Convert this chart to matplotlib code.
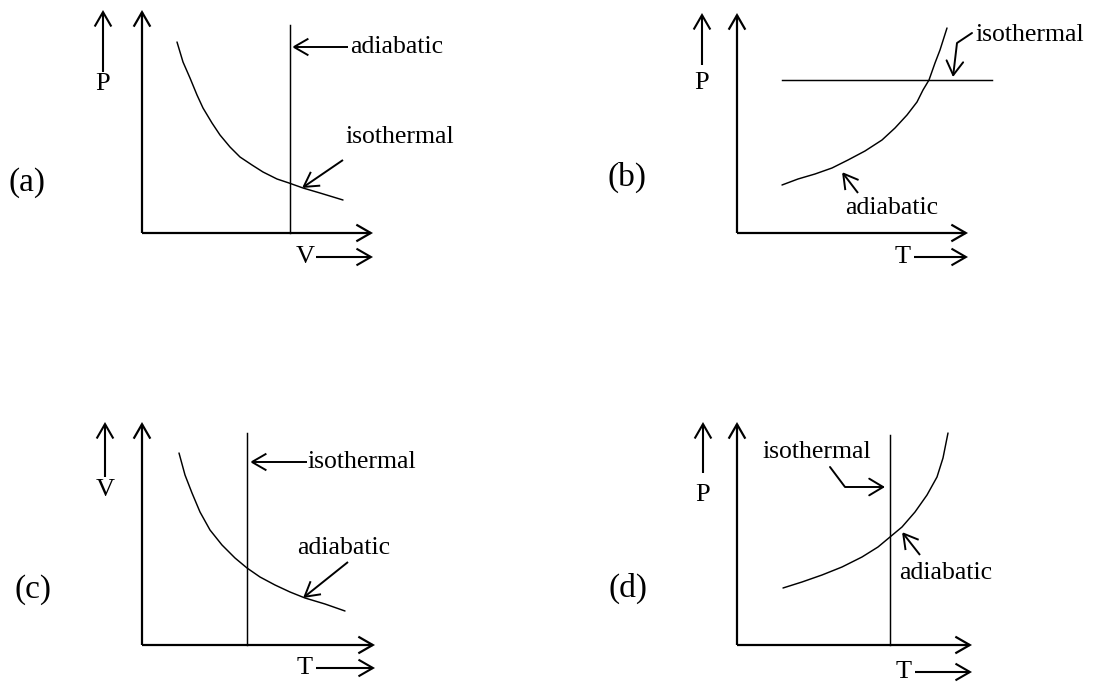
#!/usr/bin/env python3
"""Four P-V-T sketches (a)-(d): isothermal vs adiabatic process lines."""
import matplotlib
matplotlib.use("Agg")
import matplotlib.pyplot as plt
from matplotlib.patches import FancyArrowPatch
from matplotlib.path import Path

plt.rcParams["font.family"] = ["Liberation Serif", "DejaVu Serif"]

W, H = 1095, 682

# curve points, panel-local units (origin at axis corner, y up)
a_curve_x = [35, 41, 48, 55, 61, 70, 78, 88, 98, 110, 121, 135, 147, 161, 178, 201]
a_curve_y = [191, 171, 155, 138, 125, 110, 98, 86, 76, 68, 61, 54, 50, 45, 40, 33]
b_curve_x = [45, 61, 78, 95, 111, 128, 145, 158, 170, 180, 186, 192, 198, 203, 210]
b_curve_y = [48, 54, 59, 65, 73, 82, 93, 105, 118, 131, 143, 153, 170, 183, 205]
c_curve_x = [37, 43, 50, 58, 68, 80, 93, 105, 118, 133, 148, 163, 183, 203]
c_curve_y = [192, 170, 152, 133, 115, 100, 87, 77, 68, 60, 53, 47, 41, 34]
d_curve_x = [46, 65, 85, 105, 125, 141, 153, 165, 178, 190, 200, 206, 211]
d_curve_y = [57, 63, 70, 78, 88, 98, 108, 118, 133, 150, 168, 187, 212]

# straight process lines: (a) V const, (b) P const, (c) T const, (d) T const
a_vline_x, a_vline_top = 148, 208
b_hline_y, b_hline_x = 153, (45, 255)
c_vline_x, c_vline_top = 105, 212
d_vline_x, d_vline_top = 153, 210

panel_tags = ["(a)", "(b)", "(c)", "(d)"]
y_names = ["P", "P", "V", "P"]
x_names = ["V", "T", "T", "T"]

LW_AX = 1.6
LW_CV = 1.05
FS = 18.5


def arrow(ax, p0, p1, lw=LW_AX, ms=20, hl=0.52, hw=0.3):
    a = FancyArrowPatch(p0, p1, arrowstyle=f"->,head_length={hl},head_width={hw}",
                        mutation_scale=ms, lw=lw, color="black",
                        shrinkA=0, shrinkB=0, joinstyle="miter", capstyle="butt")
    ax.add_patch(a)


def path_arrow(ax, pts, lw=1.4):
    p = Path(pts, [Path.MOVETO] + [Path.LINETO] * (len(pts) - 1))
    a = FancyArrowPatch(path=p, arrowstyle="->,head_length=0.5,head_width=0.3",
                        mutation_scale=20, lw=lw, color="black",
                        shrinkA=0, shrinkB=0)
    ax.add_patch(a)


def panel(fig, ox, oy):
    ax = fig.add_axes([0, 0, 1, 1])
    ax.set_xlim(-ox, W - ox)
    ax.set_ylim(oy - H, oy)
    ax.axis("off")
    ax.patch.set_alpha(0)
    return ax


def frame(ax, tag, yname, xname, ytop, xend, yarr_x, yarr_lo, ylab_y,
          xlab_x, xlab_y, tag_xy):
    arrow(ax, (0, 0), (0, ytop))
    arrow(ax, (0, 0), (xend, 0))
    arrow(ax, (yarr_x, yarr_lo), (yarr_x, ytop), lw=1.5)
    ax.text(yarr_x, ylab_y, yname, ha="center", va="center", fontsize=19)
    ax.text(xlab_x, xlab_y, xname, ha="center", va="center", fontsize=19)
    arrow(ax, (xlab_x + 11, xlab_y), (xend, xlab_y), lw=1.5)
    ax.text(tag_xy[0], tag_xy[1], tag, ha="center", va="center", fontsize=24)


def curve(ax, xs, ys):
    ax.plot(xs, ys, color="black", lw=LW_CV, solid_joinstyle="round",
            solid_capstyle="round")


fig = plt.figure(figsize=(W / 100, H / 100), dpi=100)
fig.patch.set_facecolor("white")

# ---- (a) P-V
ax = panel(fig, 142, 233)
frame(ax, panel_tags[0], y_names[0], x_names[0], 223, 231, -39, 161, 149,
      163, -24, (-115, 50))
curve(ax, a_curve_x, a_curve_y)
ax.plot([a_vline_x, a_vline_x], [0, a_vline_top], color="black", lw=LW_CV)
arrow(ax, (206, 186), (150, 186), lw=1.4)
ax.text(208, 186, "adiabatic", ha="left", va="center", fontsize=FS)
ax.text(203, 96, "isothermal", ha="left", va="center", fontsize=FS)
arrow(ax, (201, 73), (160, 45), lw=1.4)

# ---- (b) P-T
ax = panel(fig, 737, 233)
frame(ax, panel_tags[1], y_names[1], x_names[1], 220, 231, -35, 168, 150,
      166, -24, (-110, 56))
curve(ax, b_curve_x, b_curve_y)
ax.plot(list(b_hline_x), [b_hline_y, b_hline_y], color="black", lw=LW_CV)
ax.text(238, 198, "isothermal", ha="left", va="center", fontsize=FS)
path_arrow(ax, [(235, 200), (220, 190), (216, 156)])
ax.text(155, 25, "adiabatic", ha="center", va="center", fontsize=FS)
arrow(ax, (121, 40), (105, 61), lw=1.4)

# ---- (c) V-T
ax = panel(fig, 142, 645)
frame(ax, panel_tags[2], y_names[2], x_names[2], 223, 233, -37, 168, 155,
      163, -23, (-109, 55))
curve(ax, c_curve_x, c_curve_y)
ax.plot([c_vline_x, c_vline_x], [0, c_vline_top], color="black", lw=LW_CV)
arrow(ax, (165, 183), (108, 183), lw=1.4)
ax.text(166, 183, "isothermal", ha="left", va="center", fontsize=FS)
ax.text(202, 97, "adiabatic", ha="center", va="center", fontsize=FS)
arrow(ax, (206, 83), (161, 47), lw=1.4)

# ---- (d) P-T
ax = panel(fig, 737, 645)
frame(ax, panel_tags[3], y_names[3], x_names[3], 223, 235, -34, 172, 150,
      167, -27, (-109, 57))
curve(ax, d_curve_x, d_curve_y)
ax.plot([d_vline_x, d_vline_x], [0, d_vline_top], color="black", lw=LW_CV)
ax.text(80, 193, "isothermal", ha="center", va="center", fontsize=FS)
path_arrow(ax, [(93, 178), (108, 158), (148, 158)])
ax.text(209, 72, "adiabatic", ha="center", va="center", fontsize=FS)
arrow(ax, (183, 90), (165, 113), lw=1.4)

fig.savefig("out.png", dpi=100, facecolor="white")
